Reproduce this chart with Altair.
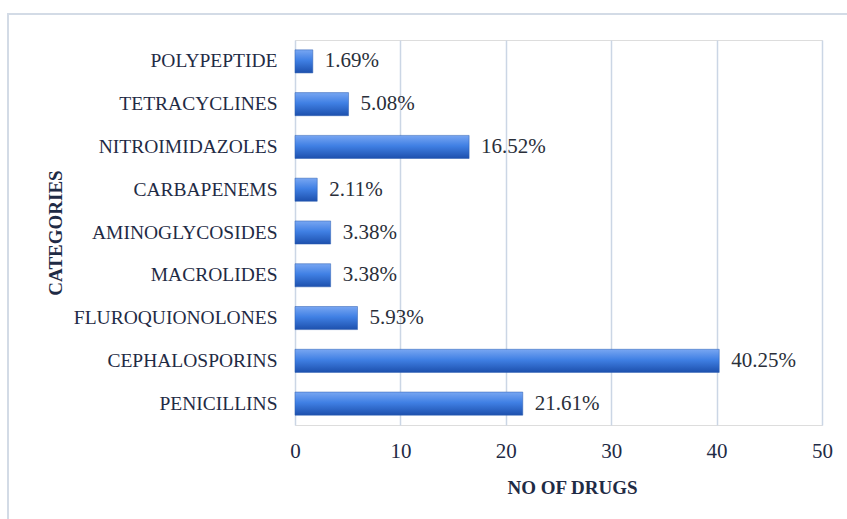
import altair as alt
import pandas as pd

categories = ["POLYPEPTIDE", "TETRACYCLINES", "NITROIMIDAZOLES", "CARBAPENEMS",
              "AMINOGLYCOSIDES", "MACROLIDES", "FLUROQUIONOLONES", "CEPHALOSPORINS",
              "PENICILLINS"]
values = [1.69, 5.08, 16.52, 2.11, 3.38, 3.38, 5.93, 40.25, 21.61]
x_ticks = [0, 10, 20, 30, 40, 50]

df = pd.DataFrame({"cat": categories, "val": values,
                   "label": [f"{v:.2f}%" for v in values]})

FONT = "Liberation Serif"
TXT = "#1f2b45"

W, H = 527, 385

grad = alt.Gradient(
    gradient="linear",
    stops=[alt.GradientStop(color="#78a6f2", offset=0),
           alt.GradientStop(color="#4080e4", offset=0.45),
           alt.GradientStop(color="#1d50ad", offset=1)],
    x1=0, x2=0, y1=0, y2=1,
)

y_enc = alt.Y("cat:N", sort=categories,
              scale=alt.Scale(paddingInner=0.46, paddingOuter=0.23),
              axis=alt.Axis(title="CATEGORIES", ticks=False, domain=False,
                            labelPadding=18, labelFont=FONT, labelFontSize=19.5,
                            labelColor=TXT, labelLimit=300,
                            titleFont=FONT, titleFontSize=19, titleFontWeight="bold",
                            titleColor=TXT, titleX=-240, titleY=H / 2,
                            titleAngle=270, titleBaseline="middle", grid=False))

x_enc = alt.X("val:Q", scale=alt.Scale(domain=[0, 50], nice=False),
              axis=alt.Axis(values=x_ticks, title="NO OF DRUGS", ticks=False,
                            domain=False, grid=True, gridColor="#cbd6e5",
                            gridWidth=1.5, labelPadding=15, labelFont=FONT,
                            labelFontSize=21, labelColor=TXT, labelFlush=False,
                            titleFont=FONT, titleFontSize=19, titleFontWeight="bold",
                            titleColor=TXT, titlePadding=17, titleX=277))

bars = alt.Chart(df).mark_bar(color=grad, stroke="#2a5cb0", strokeWidth=0.5).encode(
    x=x_enc, y=y_enc)

labels = alt.Chart(df).mark_text(align="left", baseline="middle", dx=12,
                                 font=FONT, fontSize=21, color="#2a2f3a").encode(
    x="val:Q", y=alt.Y("cat:N", sort=categories), text="label:N")

frame = alt.Chart(df).mark_rect(fill=None, stroke="#d3dbe6", strokeWidth=2).encode(
    x=alt.value(-287), x2=alt.value(W + 40),
    y=alt.value(-26), y2=alt.value(H + 120))

chart = alt.layer(frame, bars, labels).properties(
    width=W, height=H,
    autosize=alt.AutoSizeParams(type="none"),
    padding={"left": 295, "top": 40, "right": 25, "bottom": 94},
).configure_view(stroke=None).configure(background="white")

chart.save("out.html", embed_options={"renderer": "svg", "actions": False})
